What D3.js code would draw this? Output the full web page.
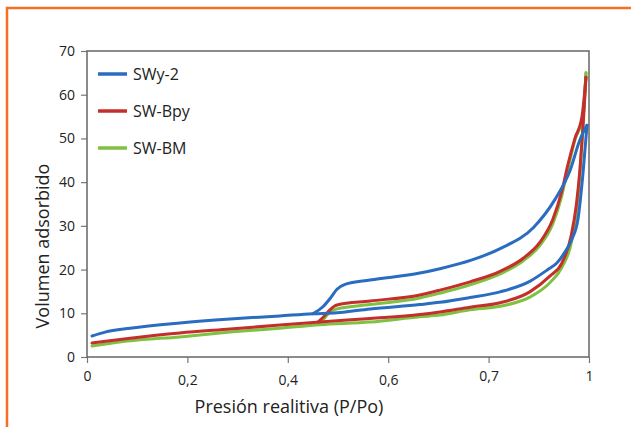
<!DOCTYPE html>
<html>
<head>
<meta charset="utf-8">
<script src="https://cdn.jsdelivr.net/npm/d3@7"></script>
<style>
	body { margin: 0; background: #fff; }
	svg { display: block; }
</style>
</head>
<body>
<svg width="631" height="427"></svg>
<script>
const seriesNames = ['SWy-2', 'SW-Bpy', 'SW-BM'];
const seriesColours = ['#2a6cc0', '#c3302c', '#7fc242'];

const xTicks = [0, 0.2, 0.4, 0.6, 0.8, 1];
const xTickLabels = ['0', '0,2', '0,4', '0,6', '0,7', '1'];
const yTicks = [0, 10, 20, 30, 40, 50, 60, 70];

// adsorption (lower) and desorption (upper) branches, x ascending
const swy2Ads = [
	[0.01, 4.8], [0.036, 5.7], [0.086, 6.6], [0.185, 7.8], [0.285, 8.7], [0.384, 9.4],
	[0.45, 9.9], [0.498, 10.1], [0.564, 11], [0.663, 12], [0.703, 12.5], [0.763, 13.6],
	[0.823, 14.9], [0.882, 17.3], [0.918, 20], [0.936, 21.5], [0.952, 24], [0.966, 27],
	[0.978, 31.5], [0.988, 42], [0.996, 53]
];
const swy2Des = [
	[0.45, 9.9], [0.47, 11.5], [0.485, 13.5], [0.498, 15.5], [0.514, 16.6], [0.564, 17.6],
	[0.663, 19.2], [0.703, 20.2], [0.767, 22.2], [0.823, 24.8], [0.89, 29.7], [0.932, 36],
	[0.962, 42.6], [0.982, 49.7], [0.996, 53]
];
const swbpyAds = [
	[0.01, 3.2], [0.086, 4.3], [0.185, 5.5], [0.285, 6.4], [0.384, 7.3], [0.464, 8],
	[0.564, 8.8], [0.663, 9.7], [0.703, 10.3], [0.763, 11.4], [0.823, 12.4], [0.882, 14.9],
	[0.922, 18.5], [0.946, 21.5], [0.964, 27.5], [0.975, 35], [0.982, 43], [0.988, 52.5],
	[0.994, 64]
];
const swbpyDes = [
	[0.46, 8], [0.474, 9.5], [0.484, 10.8], [0.498, 11.9], [0.564, 12.8], [0.663, 14.2],
	[0.703, 15.3], [0.763, 17.2], [0.823, 19.6], [0.869, 22.6], [0.902, 26.2], [0.928, 31.5],
	[0.946, 38], [0.958, 44], [0.972, 50], [0.986, 55], [0.994, 64]
];
const swbmAds = [
	[0.01, 2.5], [0.086, 3.7], [0.185, 4.6], [0.285, 5.7], [0.384, 6.6], [0.464, 7.4],
	[0.564, 8], [0.663, 9.2], [0.703, 9.6], [0.763, 10.8], [0.823, 11.6], [0.882, 13.7],
	[0.922, 17], [0.946, 20.5], [0.966, 26.8], [0.976, 34.3], [0.982, 42], [0.988, 53.5],
	[0.994, 65]
];
const swbmDes = [
	[0.464, 7.8], [0.474, 9], [0.484, 10.3], [0.498, 11], [0.564, 12], [0.663, 13.5],
	[0.703, 14.6], [0.763, 16.5], [0.823, 19], [0.869, 22], [0.902, 25.5], [0.928, 30.5],
	[0.946, 37], [0.958, 43], [0.972, 49.7], [0.988, 55], [0.994, 65]
];

const series = [
	{ name: seriesNames[0], colour: seriesColours[0], branches: [swy2Ads, swy2Des] },
	{ name: seriesNames[1], colour: seriesColours[1], branches: [swbpyAds, swbpyDes] },
	{ name: seriesNames[2], colour: seriesColours[2], branches: [swbmAds, swbmDes] },
];

const svg = d3.select('svg');
const font = '"Open Sans", "Noto Sans", sans-serif';

// orange frame
svg.append('path')
	.attr('d', 'M7,427 V8 H631')
	.attr('fill', 'none')
	.attr('stroke', '#f26f26')
	.attr('stroke-width', 2.5);

const margin = { left: 87, right: 589, top: 51, bottom: 357 };

const x = d3.scaleLinear().domain([0, 1]).range([margin.left, margin.right]);
const y = d3.scaleLinear().domain([0, 70]).range([margin.bottom, margin.top]);

const xAxis = svg.append('g')
	.attr('transform', `translate(0,${margin.bottom})`)
	.call(d3.axisBottom(x)
		.tickValues(xTicks)
		.tickFormat((d, i) => xTickLabels[i])
		.tickSize(6)
		.tickPadding(7));

const yAxis = svg.append('g')
	.attr('transform', `translate(${margin.left},0)`)
	.call(d3.axisLeft(y)
		.tickValues(yTicks)
		.tickSize(6)
		.tickPadding(6));

[xAxis, yAxis].forEach(ax => {
	ax.select('.domain').remove();
	ax.selectAll('line').attr('stroke', '#777').attr('stroke-width', 1.2);
	ax.selectAll('text')
		.attr('fill', '#222')
		.style('font-family', font)
		.style('font-size', '14px');
});

// staggered baseline of the middle x labels
xAxis.selectAll('text')
	.attr('dy', (d, i) => (i >= 1 && i <= 3) ? '1.05em' : '0.75em');

svg.append('rect')
	.attr('x', margin.left)
	.attr('y', margin.top)
	.attr('width', margin.right - margin.left)
	.attr('height', margin.bottom - margin.top)
	.attr('fill', 'none')
	.attr('stroke', '#666')
	.attr('stroke-width', 1.5);

const line = d3.line()
	.x(d => x(d[0]))
	.y(d => y(d[1]))
	.curve(d3.curveMonotoneX);

const curves = svg.append('g').attr('class', 'curves');
series.slice().reverse().forEach(s => {
	s.branches.forEach(b => {
		curves.append('path')
			.datum(b)
			.attr('d', line)
			.attr('fill', 'none')
			.attr('stroke', s.colour)
			.attr('stroke-width', 3)
			.attr('stroke-linejoin', 'round')
			.attr('stroke-linecap', 'round');
	});
});

// legend
const legend = svg.append('g')
	.selectAll('g')
	.data(series)
	.enter()
	.append('g')
	.attr('transform', (d, i) => `translate(98,${74 + i * 37})`);

legend.append('line')
	.attr('x1', 0)
	.attr('x2', 29)
	.attr('stroke', d => d.colour)
	.attr('stroke-width', 3.5);

legend.append('text')
	.text(d => d.name)
	.attr('x', 35)
	.attr('dy', '0.35em')
	.attr('fill', '#222')
	.style('font-family', font)
	.style('font-size', '16px');

svg.append('text')
	.text('Presión realitiva (P/Po)')
	.attr('x', 289)
	.attr('y', 413)
	.attr('text-anchor', 'middle')
	.attr('fill', '#222')
	.style('font-family', font)
	.style('font-size', '18px');

svg.append('text')
	.text('Volumen adsorbido')
	.attr('transform', 'translate(49,246) rotate(-90)')
	.attr('text-anchor', 'middle')
	.attr('fill', '#222')
	.style('font-family', font)
	.style('font-size', '18px');
</script>
</body>
</html>
